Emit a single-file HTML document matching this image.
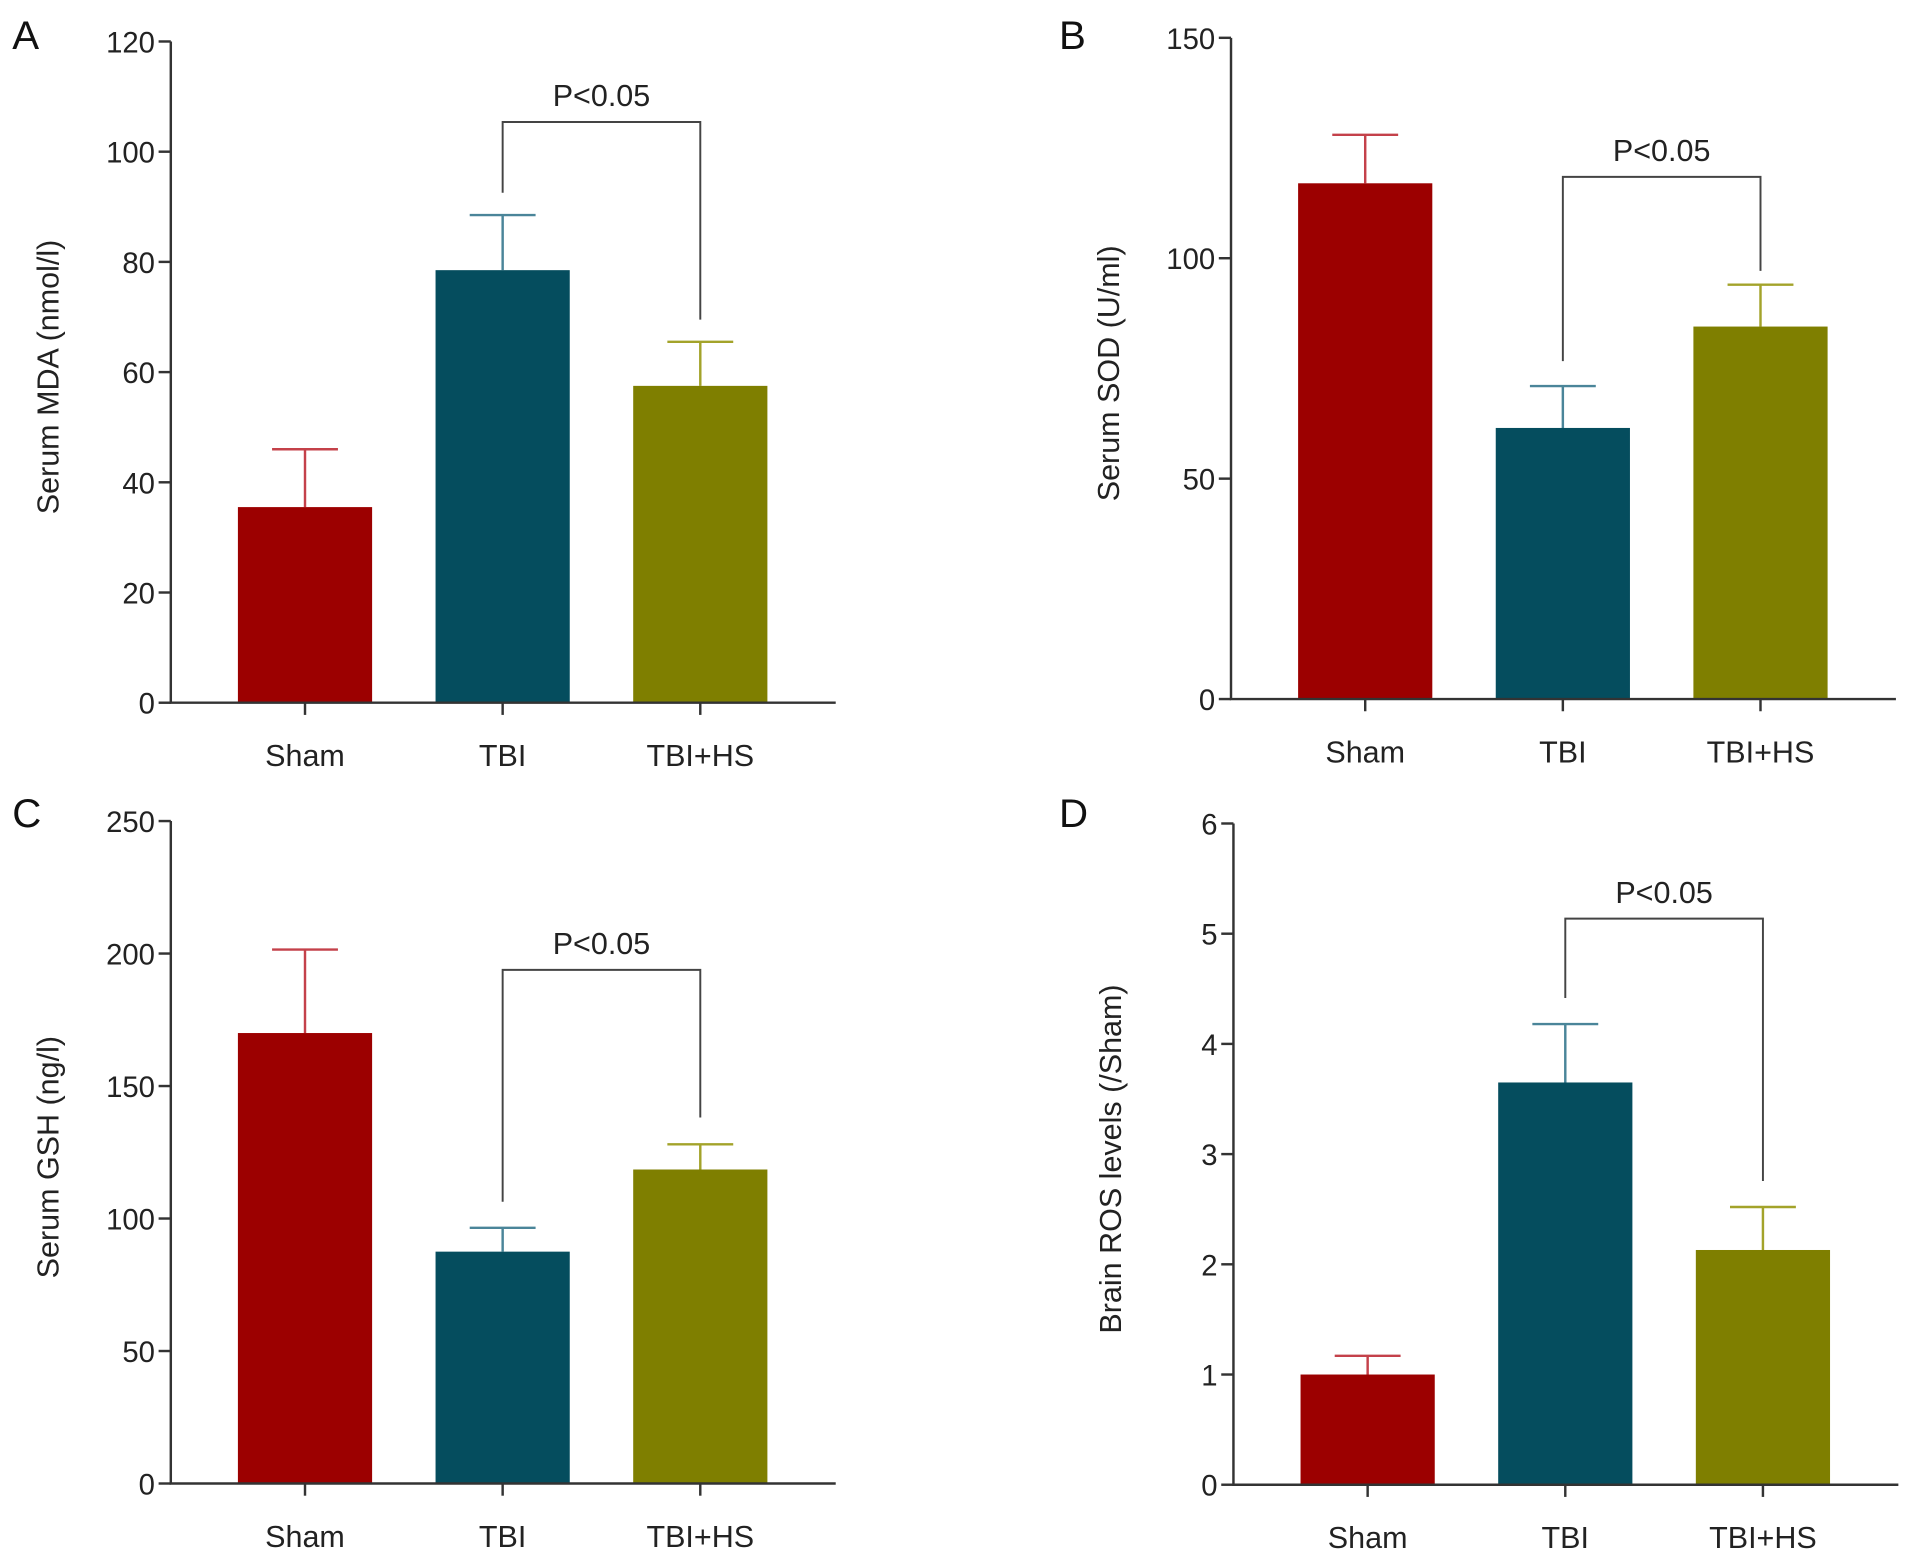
<!DOCTYPE html>
<html><head><meta charset="utf-8"><style>
html,body{margin:0;padding:0;background:#fff;}
svg{display:block;font-family:"Liberation Sans",Arial,sans-serif;}
</style></head><body>
<svg id="fig" width="1913" height="1560" viewBox="0 0 1568 1278.7" preserveAspectRatio="none" xmlns="http://www.w3.org/2000/svg"></svg>
<script>
const categories = ["Sham", "TBI", "TBI+HS"];
const mdaValues = [35.5, 78.5, 57.5];
const mdaErrors = [10.5, 10, 8];
const mdaTicks = [0, 20, 40, 60, 80, 100, 120];
const sodValues = [117, 61.5, 84.5];
const sodErrors = [11, 9.5, 9.5];
const sodTicks = [0, 50, 100, 150];
const gshValues = [170, 87.5, 118.5];
const gshErrors = [31.5, 9, 9.5];
const gshTicks = [0, 50, 100, 150, 200, 250];
const rosValues = [1.0, 3.65, 2.13];
const rosErrors = [0.17, 0.53, 0.39];
const rosTicks = [0, 1, 2, 3, 4, 5, 6];

const fills = ["#9c0000", "#054d5e", "#7f7f00"];
const errCols = ["#c4414a", "#4a8599", "#a3a32a"];
const NS = "http://www.w3.org/2000/svg";
const svg = document.getElementById("fig");
function mk(tag, attrs, parent) {
  const e = document.createElementNS(NS, tag);
  for (const k in attrs) e.setAttribute(k, attrs[k]);
  (parent || svg).appendChild(e);
  return e;
}
function panel(cfg) {
  const g = mk("g", {});
  
  
  const yMax = cfg.ticks[cfg.ticks.length - 1];
  const y = v => cfg.y0 - (v / yMax) * (cfg.y0 - cfg.yTop);
  const x = i => cfg.ax + 110 + i * 162;
  const lab = mk("text", {x: cfg.lx, y: cfg.ly, "font-size": 33, fill: "#111"}, g);
  lab.textContent = cfg.letter;
  
  
  for (let i = 0; i < categories.length; i++) {
    const cx = x(i);
    const v = cfg.values[i], e = cfg.errors[i];
    const eb = mk("path", {d: `M${cx},${y(v)}V${y(v + e)}M${cx - 27},${y(v + e)}H${cx + 27}`, stroke: errCols[i], "stroke-width": 2, fill: "none"}, g);
    
    
    const r = mk("rect", {x: cx - 55, y: y(v), width: 110, height: y(0) - y(v), fill: fills[i]}, g);
    
    
    const t = mk("text", {x: cx, y: cfg.y0 + 52, "font-size": 25, "text-anchor": "middle", fill: "#222"}, g);
    t.textContent = categories[i];
    
    
    mk("line", {x1: cx, x2: cx, y1: cfg.y0, y2: cfg.y0 + 10, stroke: "#333", "stroke-width": 2}, g);
  }
  const axes = mk("path", {d: `M${cfg.ax},${cfg.yTop}V${cfg.y0}H${cfg.ax + 545}`, stroke: "#333", "stroke-width": 2, fill: "none"}, g);
  
  
  cfg.ticks.forEach(tv => {
    mk("line", {x1: cfg.ax - 10, x2: cfg.ax, y1: y(tv), y2: y(tv), stroke: "#333", "stroke-width": 2}, g);
    const t = mk("text", {x: cfg.ax - 13, y: y(tv) + 9, "font-size": 24, "text-anchor": "end", fill: "#222"}, g);
    t.textContent = tv;
    
    
  });
  const yt = mk("text", {x: 0, y: 0, "font-size": 25, "text-anchor": "middle", fill: "#222", transform: `translate(${cfg.ax - 92},${(cfg.y0 + cfg.yTop) / 2 + 4}) rotate(-90)`}, g);
  yt.textContent = cfg.title;
  
  
  const x1 = x(1), x2 = x(2);
  const br = mk("path", {d: `M${x1},${cfg.d1}V${cfg.by}H${x2}V${cfg.d2}`, stroke: "#444", "stroke-width": 1.6, fill: "none"}, g);
  
  
  const pt = mk("text", {x: (x1 + x2) / 2, y: cfg.by - 13, "font-size": 25, "text-anchor": "middle", fill: "#222"}, g);
  pt.textContent = "P<0.05";
  
  
}
panel({name: "panel-a-mda", letter: "A", lx: 10, ly: 40, ax: 140, y0: 576, yTop: 34, ticks: mdaTicks, values: mdaValues, errors: mdaErrors, title: "Serum MDA (nmol/l)", by: 100, d1: 158, d2: 262});
panel({name: "panel-b-sod", letter: "B", lx: 868, ly: 40, ax: 1009, y0: 573, yTop: 31, ticks: sodTicks, values: sodValues, errors: sodErrors, title: "Serum SOD (U/ml)", by: 145, d1: 296, d2: 222});
panel({name: "panel-c-gsh", letter: "C", lx: 10, ly: 678, ax: 140, y0: 1216, yTop: 673, ticks: gshTicks, values: gshValues, errors: gshErrors, title: "Serum GSH (ng/l)", by: 795, d1: 985, d2: 916});
panel({name: "panel-d-ros", letter: "D", lx: 868, ly: 678, ax: 1011, y0: 1217, yTop: 675, ticks: rosTicks, values: rosValues, errors: rosErrors, title: "Brain ROS levels (/Sham)", by: 753, d1: 818, d2: 968});
</script>
</body></html>
